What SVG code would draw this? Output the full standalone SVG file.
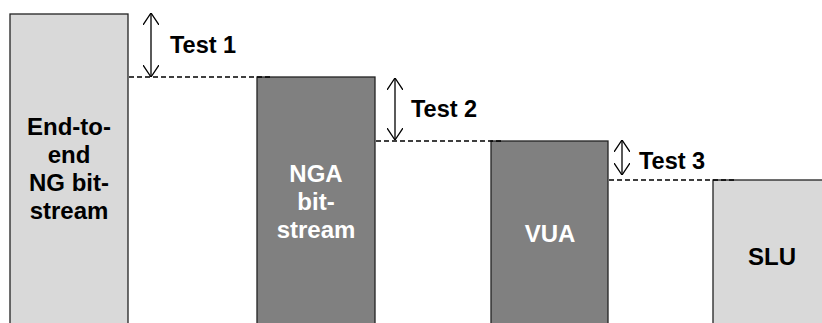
<svg xmlns="http://www.w3.org/2000/svg" width="822" height="323" viewBox="0 0 822 323">
<style>
.light{fill:#d9d9d9;stroke:#222;stroke-width:1.3}
.dark{fill:#808080;stroke:#222;stroke-width:1.3}
.lbl{font-family:"Liberation Sans",Arial,sans-serif;font-weight:bold;font-size:24px;text-anchor:middle}
.w{fill:#fff}
.k{fill:#000}
.test{font-family:"Liberation Sans",Arial,sans-serif;font-weight:bold;font-size:23.5px;fill:#000}
.dash{stroke:#000;stroke-width:1.5;stroke-dasharray:5,3;fill:none}
.arr{stroke:#000;stroke-width:1.3;fill:none;marker-start:url(#head);marker-end:url(#head)}
</style>
<defs>
<marker id="head" viewBox="0 0 12 16" refX="12" refY="8" markerWidth="12" markerHeight="16" markerUnits="userSpaceOnUse" orient="auto-start-reverse">
<path d="M0,0 L12,8 L0,16" fill="none" stroke="#000" stroke-width="1.3"/>
</marker>
</defs>
<rect width="822" height="323" fill="#fff"/>
<g id="node-e2e">
<rect class="light" x="10" y="14" width="118" height="320"/>
<text class="lbl k" x="69" y="135">End-to-</text>
<text class="lbl k" x="69" y="163">end</text>
<text class="lbl k" x="69" y="191">NG bit-</text>
<text class="lbl k" x="69" y="219">stream</text>
</g>
<g id="node-nga">
<rect class="dark" x="257" y="77" width="118" height="260"/>
<text class="lbl w" x="316" y="182">NGA</text>
<text class="lbl w" x="316" y="210">bit-</text>
<text class="lbl w" x="316" y="238">stream</text>
</g>
<g id="node-vua">
<rect class="dark" x="491" y="141" width="117" height="200"/>
<text class="lbl w" x="550" y="242">VUA</text>
</g>
<g id="node-slu">
<rect class="light" x="713" y="180" width="118" height="160"/>
<text class="lbl k" x="772" y="265">SLU</text>
</g>
<g id="connectors">
<line class="dash" x1="129" y1="77" x2="270" y2="77"/>
<line class="dash" x1="376" y1="141" x2="503" y2="141"/>
<line class="dash" x1="609" y1="180" x2="737" y2="180"/>
<line class="arr" x1="151" y1="13" x2="151" y2="77"/>
<line class="arr" x1="395" y1="78" x2="395" y2="140"/>
<line class="arr" x1="622" y1="140" x2="622" y2="175"/>
<text class="test" x="170" y="53">Test 1</text>
<text class="test" x="411" y="117">Test 2</text>
<text class="test" x="639" y="169">Test 3</text>
</g>
</svg>
